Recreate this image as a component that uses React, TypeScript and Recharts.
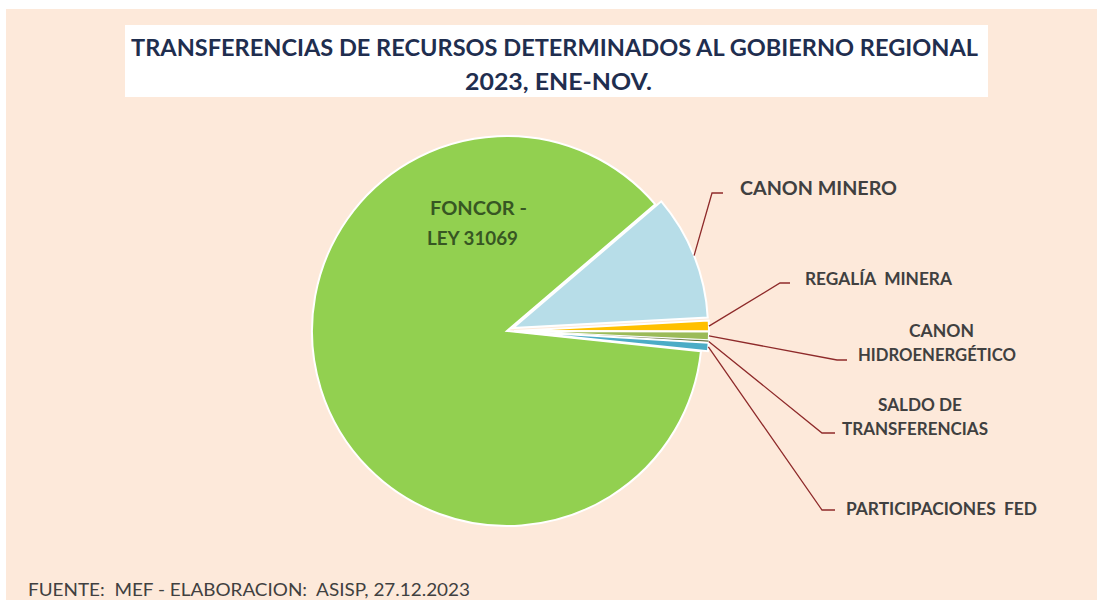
import React from "react";
import { PieChart, Pie, Cell } from "recharts";

// ---- data ----
const categories = [
  "CANON MINERO",
  "REGALÍA\u00A0 MINERA",
  "CANON HIDROENERGÉTICO",
  "SALDO DE TRANSFERENCIAS",
  "PARTICIPACIONES\u00A0 FED",
  "FONCOR - LEY 31069",
];
const shares = [10.4, 0.9, 0.7, 0.2, 0.7, 87.1];
const titleLines = [
  "TRANSFERENCIAS DE RECURSOS DETERMINADOS AL GOBIERNO REGIONAL",
  "2023, ENE-NOV.",
];
const footerText = "FUENTE:\u00A0 MEF - ELABORACION:\u00A0 ASISP, 27.12.2023";

// ---- styling ----
const sliceColors = ["#B7DDE8", "#FFC000", "#9BBB59", "#4F6228", "#4BACC6", "#92D050"];
const BG = "#FDE9DA";
const LEADER = "#8E2A2A";
const LABEL_COLOR = "#404040";
const FONT = "Lato, 'Open Sans', sans-serif";

const data = categories.map((name, i) => ({ name, value: shares[i] }));

// groups: which slices are drawn by which (exploded) pie
const mainGroup = [categories[5]];
const canonGroup = [categories[0]];
const smallGroup = [categories[1], categories[2], categories[3], categories[4]];

type Line = { t: string; x: number; y: number; w: number; size: number };
type Layout = { elbow?: [number, number]; end?: [number, number]; lines: Line[]; color?: string };

const labelLayout: Record<string, Layout> = {
  [categories[0]]: {
    elbow: [712, 193],
    end: [723, 193],
    lines: [{ t: "CANON MINERO", x: 740, y: 195, w: 157, size: 19 }],
  },
  [categories[1]]: {
    elbow: [780, 283],
    end: [790, 283],
    lines: [{ t: "REGALÍA\u00A0 MINERA", x: 805, y: 285, w: 147, size: 16.5 }],
  },
  [categories[2]]: {
    elbow: [837, 360],
    end: [847, 360],
    lines: [
      { t: "CANON", x: 909, y: 337, w: 65, size: 16.5 },
      { t: "HIDROENERGÉTICO", x: 858, y: 361, w: 158, size: 16.5 },
    ],
  },
  [categories[3]]: {
    elbow: [822, 433],
    end: [835, 433],
    lines: [
      { t: "SALDO DE", x: 878, y: 411, w: 84, size: 16.5 },
      { t: "TRANSFERENCIAS", x: 842, y: 435, w: 146, size: 16.5 },
    ],
  },
  [categories[4]]: {
    elbow: [822, 510],
    end: [835, 510],
    lines: [{ t: "PARTICIPACIONES\u00A0 FED", x: 846, y: 515, w: 191, size: 16.5 }],
  },
  [categories[5]]: {
    color: "#375623",
    lines: [
      { t: "FONCOR -", x: 430, y: 215, w: 97, size: 19 },
      { t: "LEY 31069", x: 427, y: 245, w: 91, size: 19 },
    ],
  },
};

const RAD = Math.PI / 180;

const makeLabel = (group: string[]) => (props: any) => {
  const name = props.name ?? props.payload?.name;
  if (!group.includes(name)) return <g />;
  const lay = labelLayout[name];
  const { cx, cy, midAngle, outerRadius } = props;
  const sx = cx + outerRadius * Math.cos(-midAngle * RAD);
  const sy = cy + outerRadius * Math.sin(-midAngle * RAD);
  return (
    <g>
      {lay.elbow && lay.end && (
        <polyline
          points={`${sx},${sy} ${lay.elbow[0]},${lay.elbow[1]} ${lay.end[0]},${lay.end[1]}`}
          fill="none"
          stroke={LEADER}
          strokeWidth={1.3}
        />
      )}
      {lay.lines.map((l, i) => (
        <text
          key={i}
          x={l.x}
          y={l.y}
          fontFamily={FONT}
          fontWeight={700}
          fontSize={l.size}
          fill={lay.color ?? LABEL_COLOR}
          textLength={l.w}
          lengthAdjust="spacingAndGlyphs"
        >
          {l.t}
        </text>
      ))}
    </g>
  );
};

const START = 40.5;

const renderPie = (key: string, group: string[], cx: number, cy: number) => (
  <Pie
    key={key}
    data={data}
    dataKey="value"
    nameKey="name"
    cx={cx}
    cy={cy}
    outerRadius={195}
    startAngle={START}
    endAngle={START - 360}
    stroke="#FFFFFF"
    strokeWidth={2}
    isAnimationActive={false}
    labelLine={false}
    label={makeLabel(group)}
  >
    {data.map((d, i) => (
      <Cell
        key={i}
        fill={group.includes(d.name) ? sliceColors[i] : "transparent"}
        stroke={group.includes(d.name) ? "#FFFFFF" : "none"}
        strokeWidth={group.includes(d.name) && d.name !== categories[3] ? 2 : 0.6}
      />
    ))}
  </Pie>
);

export default function App() {
  return (
    <div style={{ position: "absolute", left: 0, top: 0, width: 1097, height: 600, background: "#FFFFFF", overflow: "hidden" }}>
      <svg width={1097} height={600} style={{ position: "absolute", left: 0, top: 0 }}>
        <rect x={6} y={9} width={1091} height={591} fill={BG} />
        <rect x={125} y={25} width={863} height={72} fill="#FFFFFF" />
        <text
          x={131}
          y={56}
          fontFamily={FONT}
          fontWeight={700}
          fontSize={23.5}
          fill="#1F2E4F"
          textLength={847}
          lengthAdjust="spacingAndGlyphs"
        >
          {titleLines[0]}
        </text>
        <text
          x={465}
          y={90}
          fontFamily={FONT}
          fontWeight={700}
          fontSize={23.5}
          fill="#1F2E4F"
          textLength={187}
          lengthAdjust="spacingAndGlyphs"
        >
          {titleLines[1]}
        </text>
        <text
          x={28}
          y={596}
          fontFamily={FONT}
          fontSize={17}
          fill="#404040"
          textLength={442}
          lengthAdjust="spacingAndGlyphs"
        >
          {footerText}
        </text>
      </svg>
      <div style={{ position: "absolute", left: 0, top: 0 }}>
        <PieChart width={1097} height={600} margin={{ top: 0, right: 0, bottom: 0, left: 0 }}>
          {renderPie("main", mainGroup, 507, 331)}
          {renderPie("canon", canonGroup, 513, 328)}
          {renderPie("small", smallGroup, 514, 331)}
        </PieChart>
      </div>
    </div>
  );
}
